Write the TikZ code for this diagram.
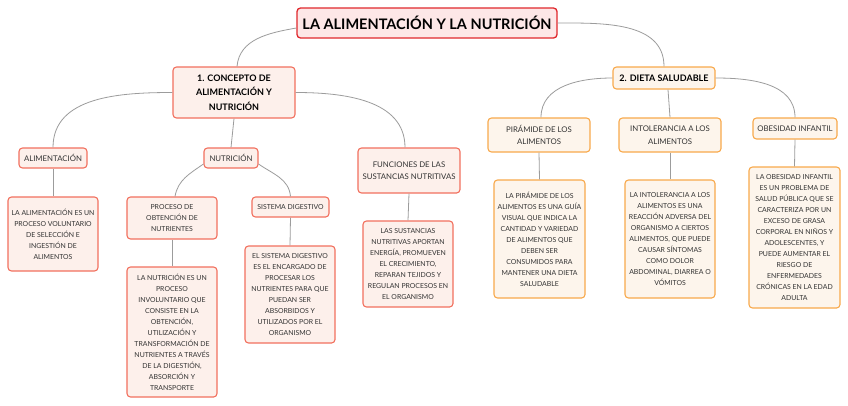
\documentclass[tikz,border=0pt]{standalone}
\usepackage{fontspec}
\setmainfont{Lato}
\definecolor{titleborder}{HTML}{E0282D}
\definecolor{titlefill}{HTML}{FDE7E7}
\definecolor{redborder}{HTML}{F2705E}
\definecolor{redfill}{HTML}{FDF0EB}
\definecolor{orborder}{HTML}{F8A94C}
\definecolor{orfill}{HTML}{FDF5EC}
\definecolor{linkgray}{HTML}{9C9C9C}
\definecolor{txtgray}{HTML}{333333}
\begin{document}
\begin{tikzpicture}[x=1pt,y=-1pt,
  basebox/.style={draw, rounded corners=3.5pt, line width=1.1pt, align=center, inner sep=0pt, text=txtgray},
  titlebox/.style={basebox, draw=titleborder, fill=titlefill, line width=1.3pt, text=black, font=\fontsize{14.5}{17}\selectfont\bfseries},
  redmain/.style={basebox, draw=redborder, fill=redfill, text=black, font=\fontsize{9}{14.5}\selectfont\bfseries},
  ormain/.style={basebox, draw=orborder, fill=orfill, text=black, font=\fontsize{9}{14.5}\selectfont\bfseries},
  redsub/.style={basebox, draw=redborder, fill=redfill, font=\fontsize{7.8}{12.5}\selectfont},
  orsub/.style={basebox, draw=orborder, fill=orfill, font=\fontsize{7.8}{12.5}\selectfont},
  redtxt/.style={basebox, draw=redborder, fill=redfill, font=\fontsize{6.9}{11}\selectfont},
  ortxt/.style={basebox, draw=orborder, fill=orfill, font=\fontsize{6.9}{11}\selectfont},
  link/.style={draw=linkgray, line width=0.8pt}
]
\fill[white] (0,0) rectangle (848,405);
\useasboundingbox (0,0) rectangle (848,405);

% Title
\node[titlebox, minimum width=260pt, minimum height=30pt] (title) at (427,23) {LA ALIMENTACIÓN Y LA NUTRICIÓN};

% Level 1
\node[redmain, minimum width=122pt, minimum height=51pt] (c1) at (234,92.5) {1. CONCEPTO DE\\ALIMENTACIÓN Y\\NUTRICIÓN};
\node[ormain, minimum width=102pt, minimum height=22pt] (c2) at (664,78) {2. DIETA SALUDABLE};

% Level 2
\node[redsub, minimum width=68pt, minimum height=20pt] (alim) at (53,158) {ALIMENTACIÓN};
\node[redsub, minimum width=54pt, minimum height=20pt] (nutr) at (231,158) {NUTRICIÓN};
\node[redsub, minimum width=102pt, minimum height=45pt] (func) at (409,170.5) {FUNCIONES DE LAS\\SUSTANCIAS NUTRITIVAS};
\node[orsub, minimum width=102pt, minimum height=34pt] (pira) at (539,135) {PIRÁMIDE DE LOS\\ALIMENTOS};
\node[orsub, minimum width=102pt, minimum height=34pt] (into) at (670,135) {INTOLERANCIA A LOS\\ALIMENTOS};
\node[orsub, minimum width=84pt, minimum height=21pt] (obes) at (795,128.5) {OBESIDAD INFANTIL};

% Level 3
\node[redtxt, minimum width=90pt, minimum height=74pt] (alimtxt) at (53,234) {LA ALIMENTACIÓN ES UN\\PROCESO VOLUNTARIO\\DE SELECCIÓN E\\INGESTIÓN DE\\ALIMENTOS};
\node[redtxt, minimum width=90pt, minimum height=42pt] (proc) at (172,218) {PROCESO DE\\OBTENCIÓN DE\\NUTRIENTES};
\node[redtxt, minimum width=77pt, minimum height=20pt] (sist) at (290.5,207) {SISTEMA DIGESTIVO};
\node[redtxt, minimum width=90pt, minimum height=86pt] (sustxt) at (408,264) {LAS SUSTANCIAS\\NUTRITIVAS APORTAN\\ENERGÍA, PROMUEVEN\\EL CRECIMIENTO,\\REPARAN TEJIDOS Y\\REGULAN PROCESOS EN\\EL ORGANISMO};
\node[redtxt, minimum width=90pt, minimum height=130pt] (nutrtxt) at (172,332) {LA NUTRICIÓN ES UN\\PROCESO\\INVOLUNTARIO QUE\\CONSISTE EN LA\\OBTENCIÓN,\\UTILIZACIÓN Y\\TRANSFORMACIÓN DE\\NUTRIENTES A TRAVÉS\\DE LA DIGESTIÓN,\\ABSORCIÓN Y\\TRANSPORTE};
\node[redtxt, minimum width=90pt, minimum height=97pt] (sisttxt) at (290,294.5) {EL SISTEMA DIGESTIVO\\ES EL ENCARGADO DE\\PROCESAR LOS\\NUTRIENTES PARA QUE\\PUEDAN SER\\ABSORBIDOS Y\\UTILIZADOS POR EL\\ORGANISMO};
\node[ortxt, minimum width=91pt, minimum height=118pt] (piratxt) at (539.5,239) {LA PIRÁMIDE DE LOS\\ALIMENTOS ES UNA GUÍA\\VISUAL QUE INDICA LA\\CANTIDAD Y VARIEDAD\\DE ALIMENTOS QUE\\DEBEN SER\\CONSUMIDOS PARA\\MANTENER UNA DIETA\\SALUDABLE};
\node[ortxt, minimum width=90pt, minimum height=118pt] (intotxt) at (670,239) {LA INTOLERANCIA A LOS\\ALIMENTOS ES UNA\\REACCIÓN ADVERSA DEL\\ORGANISMO A CIERTOS\\ALIMENTOS, QUE PUEDE\\CAUSAR SÍNTOMAS\\COMO DOLOR\\ABDOMINAL, DIARREA O\\VÓMITOS};
\node[ortxt, minimum width=91pt, minimum height=141pt] (obestxt) at (794.5,237.5) {LA OBESIDAD INFANTIL\\ES UN PROBLEMA DE\\SALUD PÚBLICA QUE SE\\CARACTERIZA POR UN\\EXCESO DE GRASA\\CORPORAL EN NIÑOS Y\\ADOLESCENTES, Y\\PUEDE AUMENTAR EL\\RIESGO DE\\ENFERMEDADES\\CRÓNICAS EN LA EDAD\\ADULTA};

% Connectors
\begin{scope}[on background layer/.style={}]
\path[link] ([yshift=-5pt]title.west) to[out=190,in=85] ([xshift=3pt]c1.north);
\path[link] (title.east) to[out=0,in=90] (c2.north);
\path[link] (c1.west) to[out=180,in=90] (alim.north);
\path[link] (c1.south) -- (nutr.north);
\path[link] (c1.east) to[out=0,in=90] ([xshift=-4pt]func.north);
\path[link] ([yshift=-6pt]nutr.west) to[out=215,in=80] ([xshift=3pt]proc.north);
\path[link] ([yshift=-6pt]nutr.east) to[out=-35,in=95] (sist.north);
\path[link] (alim.south) -- (alimtxt.north);
\path[link] (proc.south) -- (nutrtxt.north);
\path[link] (sist.south) -- (sisttxt.north);
\path[link] (func.south) -- (sustxt.north);
\path[link] (c2.west) to[out=180,in=90] ([xshift=2pt]pira.north);
\path[link] ([xshift=4pt]c2.south) -- (into.north);
\path[link] (c2.east) to[out=0,in=90] (obes.north);
\path[link] (pira.south) -- (piratxt.north);
\path[link] (into.south) -- (intotxt.north);
\path[link] (obes.south) -- (obestxt.north);
\end{scope}
\end{tikzpicture}
\end{document}
